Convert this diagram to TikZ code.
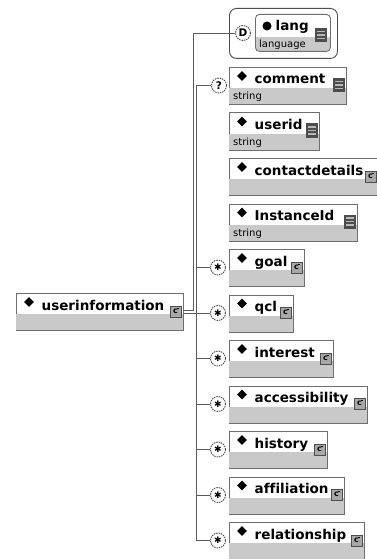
\documentclass[tikz,border=0pt]{standalone}
\usepackage{fontspec}
\setmainfont[Ligatures=NoCommon]{DejaVu Sans}
\usetikzlibrary{shapes.geometric}
\definecolor{boxline}{HTML}{6E6E6E}
\definecolor{bandfill}{HTML}{C9C9C9}
\definecolor{icondark}{HTML}{4D4D4D}
\definecolor{iconbar}{HTML}{B8B8B8}
\definecolor{cfill}{HTML}{A8A8A8}
\definecolor{wire}{HTML}{5A5A5A}
\tikzset{
  ebox/.style={draw=boxline, line width=0.9pt, fill=white, inner sep=0pt, minimum height=37pt},
  lbl/.style={font=\fontsize{13.5}{14}\selectfont\bfseries, inner sep=0pt},
  typ/.style={font=\fontsize{10}{11}\selectfont, inner sep=0pt},
  occ/.style={circle, draw=icondark, line width=0.9pt, dash pattern=on 1.5pt off 0.9pt, fill=white, minimum size=15pt, inner sep=0pt, font=\fontsize{10.5}{10.5}\selectfont\bfseries},
  wireline/.style={draw=wire, line width=0.9pt},
}
\newcommand\linesicon[2]{%
  \fill[icondark] ({#1-13},{#2+11}) rectangle ({#1-1},{#2+25});
  \foreach \k in {3.5,7,10.5} \draw[iconbar, line width=1.3pt] ({#1-11},{#2+11+\k}) -- ({#1-3},{#2+11+\k});
}
\newcommand\cicon[2]{%
  \draw[fill=cfill, draw=icondark, line width=0.8pt] ({#1-13},{#2+13}) rectangle ({#1-2},{#2+24});
  \node[font=\fontsize{8}{8}\selectfont\bfseries, inner sep=0pt] at ({#1-7.5},{#2+18.3}) {c};
  \draw[line width=0.5pt] ({#1-6},{#2+15}) -- ({#1-4.5},{#2+15});
}
\newcommand\xelem[7]{%
  \node[ebox, minimum width={(#4-#2)*1pt}, anchor=north west] (#1) at (#2,#3) {};
  \fill[bandfill] ([yshift=-21pt,xshift=0.45pt]#1.north west) rectangle ([xshift=-0.45pt,yshift=0.45pt]#1.south east);
  \fill ([xshift=13pt,yshift=-9pt]#1.north west) +(0,4.8pt) -- +(4.8pt,0) -- +(0,-4.8pt) -- +(-4.8pt,0) -- cycle;
  \node[lbl, anchor=base west] at ([xshift=25.5pt,yshift=-17pt]#1.north west) {#5};
  \node[typ, anchor=base west] at ([xshift=4pt,yshift=-33pt]#1.north west) {#6};
  \ifx L#7 \linesicon{#4}{#3}\else \cicon{#4}{#3}\fi
}
\newcommand\occstar{\fontsize{9}{9}\selectfont ✱}
\begin{document}
\begin{tikzpicture}[x=1pt, y=-1pt]
\fill[white] (0,0) rectangle (377,559);
\useasboundingbox (0,0) rectangle (377,559);

% attribute group
\node[draw=icondark, line width=0.9pt, rounded corners=7pt, minimum width=108pt, minimum height=50pt, anchor=north west, inner sep=0pt] (langgrp) at (229,8) {};
\begin{scope}
  \clip[rounded corners=4pt] (255,14) rectangle (330,51);
  \fill[white] (255,14) rectangle (330,51);
  \fill[bandfill] (255,37) rectangle (330,51);
\end{scope}
\node[draw=boxline, line width=0.9pt, rounded corners=4pt, minimum width=75pt, minimum height=37pt, anchor=north west, inner sep=0pt] (lang) at (255,14) {};
\fill (267,26) circle (4.5pt);
\node[lbl, anchor=base west] at (275.5,31) {lang};
\node[typ, anchor=base west] at (259,48) {language};
\linesicon{328}{17}
\node[occ] (dcirc) at (243,33) {D};

% elements
\xelem{comment}{229}{67}{346}{comment}{string}{L}
\xelem{userid}{229}{112.5}{319}{userid}{string}{L}
\xelem{contact}{229}{158}{378}{contactdetails}{}{C}
\xelem{instance}{229}{203.5}{357}{InstanceId}{string}{L}
\xelem{goal}{229}{249}{304}{goal}{}{C}
\xelem{qcl}{229}{294.5}{293}{qcl}{}{C}
\xelem{interest}{229}{340}{333}{interest}{}{C}
\xelem{access}{229}{385.5}{367}{accessibility}{}{C}
\xelem{history}{229}{431}{327}{history}{}{C}
\xelem{affil}{229}{476.5}{344}{affiliation}{}{C}
\xelem{relation}{229}{522}{364}{relationship}{}{C}
\xelem{ui}{16}{293}{183}{userinformation}{}{C}

% occurrence circles
\node[occ] (qcomment) at (219,85.5) {?};
\node[occ] (sgoal) at (218,267.5) {\occstar};
\node[occ] (sqcl) at (218,313) {\occstar};
\node[occ] (sinterest) at (218,358.5) {\occstar};
\node[occ] (saccess) at (218,404) {\occstar};
\node[occ] (shistory) at (218,449.5) {\occstar};
\node[occ] (saffil) at (218,495) {\occstar};
\node[occ] (srelation) at (218,540.5) {\occstar};

% connectors
\coordinate (jA) at (193,310);
\coordinate (jB) at (196.5,313);
\draw[wireline] (ui.east |- jA) -- (jA) |- (dcirc.west);
\draw[wireline] (ui.east |- jB) -- (jB);
\draw[wireline] (qcomment.west) -| (jB) |- (srelation.west);
\foreach \s in {sgoal,sqcl,sinterest,saccess,shistory,saffil}
  \draw[wireline] (\s.west) -- (\s.west -| jB);
\end{tikzpicture}
\end{document}
